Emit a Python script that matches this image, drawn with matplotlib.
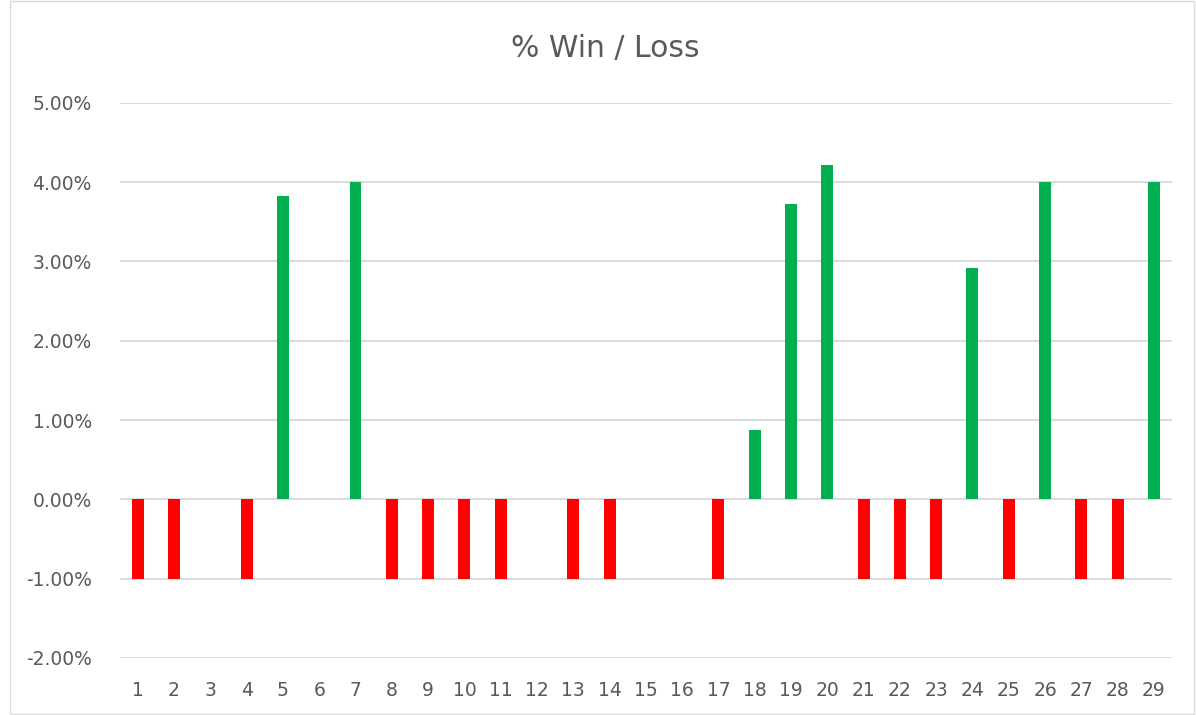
import matplotlib.pyplot as plt
from matplotlib.ticker import FuncFormatter

plt.rcParams['font.family'] = ['DejaVu Sans']

# trade number and % win/loss
trades = list(range(1, 30))
pct = [-1.00, -1.00, 0.00, -1.00, 3.82, 0.00, 4.00, -1.00, -1.00, -1.00,
       -1.00, 0.00, -1.00, -1.00, 0.00, 0.00, -1.00, 0.87, 3.73, 4.22,
       -1.00, -1.00, -1.00, 2.92, -1.00, 4.00, -1.00, -1.00, 4.00]
title = '% Win / Loss'

colors = ['#00B050' if v > 0 else '#FF0000' for v in pct]

fig = plt.figure(figsize=(11.96, 7.15), dpi=100)
ax = fig.add_axes([0.100, 0.080, 0.880, 0.776])

ax.bar(trades, pct, width=0.33, color=colors, zorder=3)

ax.set_xlim(0.5, 29.5)
ax.set_ylim(-2, 5)
ax.set_yticks(range(-2, 6))
ax.yaxis.set_major_formatter(FuncFormatter(lambda v, p: f'{v:.2f}%'))
ax.set_xticks(trades)
ax.grid(axis='y', color='#D9D9D9', linewidth=1.3, zorder=0)
for s in ax.spines.values():
    s.set_visible(False)
ax.tick_params(length=0, colors='#595959', labelsize=13.5)
ax.tick_params(axis='y', pad=20)
ax.tick_params(axis='x', pad=17)

fig.text(0.506, 0.932, title, ha='center', va='center', fontsize=21.5, color='#595959')

# light border round the chart
fig.patches.append(plt.Rectangle((0.008, 0.002), 0.990, 0.996, transform=fig.transFigure,
                                 fill=False, edgecolor='#D9D9D9', linewidth=1))

fig.savefig('out.png', dpi=100)
